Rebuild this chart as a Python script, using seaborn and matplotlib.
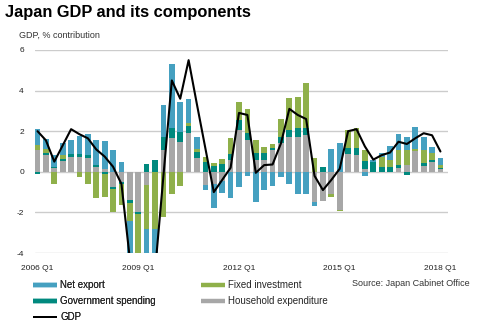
import numpy as np
import pandas as pd
import matplotlib
matplotlib.use("Agg")
import matplotlib.pyplot as plt
from matplotlib.lines import Line2D
import seaborn as sns

quarters = [f"{y} Q{q}" for y in range(2006, 2019) for q in range(1, 5)][:49]
tick_labels = ["2006 Q1", "2009 Q1", "2012 Q1", "2015 Q1", "2018 Q1"]

household = [1.07, 0.85, 0.20, 0.55, 0.75, 0.74, 0.70, 0.25, 0.15, -0.74,
             -0.50, -1.40, -2.00, -0.66, 0.00, 1.07, 1.65, 1.48, 1.93, 0.66,
             -0.66, -0.60, -0.45, 0.60, 2.06, 1.56, 0.58, 0.58, 1.07, 1.43,
             1.70, 1.73, 1.81, -1.48, -1.43, -1.10, -1.86, 0.90, 0.85, 0.15,
             0.00, 0.00, 0.00, 0.20, 0.33, 1.00, 0.28, 0.50, 0.12]
government = [-0.10, 0.10, 0.05, 0.10, 0.15, 0.15, 0.12, 0.10, -0.10, -0.13,
              -0.12, -0.12, -0.10, 0.36, 0.60, 0.66, 0.49, 0.50, 0.33, 0.33,
              0.50, 0.30, 0.40, 0.30, 0.50, 0.33, 0.33, 0.33, 0.10, 0.30,
              0.36, 0.41, 0.33, 0.00, 0.25, 0.00, 0.00, 0.25, 0.30, 0.40,
              0.50, 0.25, 0.25, 0.12, -0.15, 0.00, 0.13, 0.08, 0.05]
fixed_inv = [0.25, 0.15, -0.58, 0.20, 0.00, -0.25, -0.60, -1.30, -1.15, -1.10,
             -1.00, -0.90, -2.30, -2.14, -2.80, -2.25, -1.10, -0.70, 0.13, 0.15,
             0.25, 0.12, 0.22, 0.75, 0.87, 1.20, 0.65, 0.30, 0.20, 0.85,
             1.60, 1.53, 2.22, 0.66, 0.00, -0.16, -0.05, 0.91, 1.00, 0.50,
             0.00, 0.50, 0.33, 0.75, 0.74, 0.10, 0.65, 0.35, 0.16]
net_export = [0.80, 0.50, 0.60, 0.55, 0.65, 0.87, 1.05, 1.20, 1.38, 1.07,
              0.50, -1.70, -1.50, -1.50, -1.50, 1.57, 3.16, 1.48, 1.18, 0.55,
              -0.25, -1.16, -0.60, -1.30, -0.74, -0.20, -1.48, -0.90, -0.70, -0.25,
              -0.58, -1.10, -1.10, -0.20, 0.00, 1.12, 1.43, 0.00, 0.00, -0.20,
              0.10, 0.20, 0.67, 0.77, 0.63, 1.10, 0.63, 0.27, 0.33]
gdp = [2.0, 1.55, 0.5, 1.3, 2.1, 1.85, 1.65, 1.1, 0.75, 0.25,
       -0.6, -4.3, -8.5, -6.2, -4.9, -0.2, 4.5, 3.6, 5.5, 3.3,
       1.15, -1.0, -0.4, 0.2, 2.9, 2.8, -0.05, 0.33, 0.36, 1.4,
       3.1, 2.8, 2.6, -0.2, -0.9, -0.4, 0.15, 2.0, 2.1, 1.25,
       0.6, 0.82, 0.95, 1.48, 1.37, 1.65, 1.9, 1.8, 1.0]

series = [("Household expenditure", household, "#a7a7a7"),
          ("Government spending", government, "#00897e"),
          ("Fixed investment", fixed_inv, "#8fb04a"),
          ("Net export", net_export, "#45a0c0")]

sns.set_theme(style="white")
plt.rcParams["font.family"] = ["Liberation Sans", "DejaVu Sans"]

fig = plt.figure(figsize=(4.81, 3.27), dpi=100)
ax = fig.add_axes([35 / 481, 1 - 253 / 327, (448 - 35) / 481, (253 - 50) / 327])

x = np.arange(len(quarters))
pos_base = np.zeros(len(x))
neg_base = np.zeros(len(x))
for name, vals, col in series:
    v = np.array(vals)
    p = np.where(v > 0, v, 0)
    n = np.where(v < 0, v, 0)
    ax.bar(x, p, bottom=pos_base, width=0.68, color=col, linewidth=0, zorder=2)
    ax.bar(x, n, bottom=neg_base, width=0.68, color=col, linewidth=0, zorder=2)
    pos_base += p
    neg_base += n

df = pd.DataFrame({"x": x, "gdp": gdp})
sns.lineplot(data=df, x="x", y="gdp", ax=ax, color="black", linewidth=1.5, zorder=3)

ax.set_xlim(-0.3, 48.9)
ax.set_ylim(-4, 6)
ax.set_yticks([-4, -2, 0, 2, 4, 6])
ax.set_yticklabels(["-4", "-2", "0", "2", "4", "6"])
ax.set_xticks([quarters.index(t) for t in tick_labels])
ax.set_xticklabels(tick_labels)
ax.set_xlabel("")
ax.set_ylabel("")
ax.grid(axis="y", color="#cccccc", linewidth=1.0)
ax.grid(axis="x", visible=False)
ax.set_axisbelow(True)
for s in ax.spines.values():
    s.set_visible(False)
ax.tick_params(axis="both", length=0, labelsize=6, colors="#222222")
ax.tick_params(axis="y", pad=8)
ax.tick_params(axis="x", pad=9)

fig.text(5 / 481, 1 - 13 / 327, "Japan GDP and its components", fontsize=11.8,
         fontweight="bold", va="center", ha="left", color="black")
fig.text(19 / 481, 1 - 35 / 327, "GDP, % contribution", fontsize=6.5,
         va="center", ha="left", color="#333333")
fig.text(470 / 481, 1 - 283 / 327, "Source: Japan Cabinet Office", fontsize=6.5,
         va="center", ha="right", color="#333333")

def h(col, lw=3.2):
    return Line2D([0], [0], color=col, linewidth=lw, solid_capstyle="butt")

leg1 = fig.legend([h("#45a0c0"), h("#00897e"), h("black", 1.4)],
                  ["Net export", "Government spending", "GDP"],
                  loc="upper left", bbox_to_anchor=(33 / 481, 1 - 280 / 327),
                  frameon=False, fontsize=7, handlelength=2.5, handletextpad=0.3,
                  labelspacing=0.62, borderpad=0, borderaxespad=0)
leg2 = fig.legend([h("#8fb04a"), h("#a7a7a7")],
                  ["Fixed investment", "Household expenditure"],
                  loc="upper left", bbox_to_anchor=(201 / 481, 1 - 280 / 327),
                  frameon=False, fontsize=7, handlelength=2.5, handletextpad=0.3,
                  labelspacing=0.62, borderpad=0, borderaxespad=0)
fig.add_artist(leg1)

fig.savefig("out.png", dpi=100)
